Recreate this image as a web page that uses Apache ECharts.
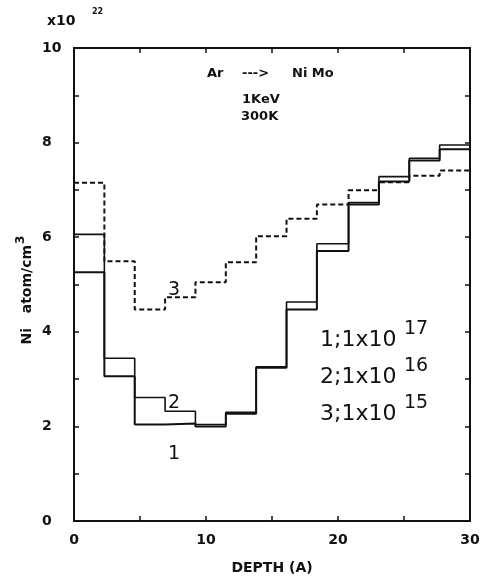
<!DOCTYPE html>
<html>
<head>
<meta charset="utf-8">
<script src="https://cdn.jsdelivr.net/npm/echarts@6/dist/echarts.min.js"></script>
<style>
  html, body { margin: 0; padding: 0; background: #fff; }
  #chart { width: 484px; height: 580px; }
</style>
</head>
<body>
<div id="chart"></div>
<script>
// Depth bin edges (Å) and Ni concentration per bin (x10^22 atom/cm^3)
const binEdges = [0, 2.3, 4.6, 6.9, 9.2, 11.5, 13.8, 16.1, 18.4, 20.8, 23.1, 25.4, 27.7, 30];
const fluence17 = [5.26, 3.06, 2.04, 2.06, 2.00, 2.27, 3.24, 4.47, 5.71, 6.69, 7.18, 7.62, 7.86];
const fluence16 = [6.06, 3.44, 2.61, 2.32, 2.04, 2.30, 3.26, 4.63, 5.86, 6.73, 7.28, 7.67, 7.95];
const fluence15 = [7.15, 5.49, 4.47, 4.73, 5.05, 5.47, 6.02, 6.39, 6.69, 6.99, 7.16, 7.30, 7.41];
const xTickLabels = ['0', '10', '20', '30'];
const yTickLabels = ['0', '2', '4', '6', '8', '10'];

// Histogram-style points: each bin value starts at its left edge, last value held to the end
function stepPoints(values) {
  const pts = values.map((v, i) => [binEdges[i], v]);
  pts.push([binEdges[binEdges.length - 1], values[values.length - 1]]);
  return pts;
}

const FONT = 'DejaVu Sans';
const INK = '#111';
const tickFont = { color: INK, fontFamily: FONT, fontWeight: 'bold', fontSize: 14 };

const chart = echarts.init(document.getElementById('chart'), null, { renderer: 'canvas' });

const axisLineStyle = { show: true, onZero: false, lineStyle: { color: INK, width: 2 } };
const tickStyle = { show: true, inside: true, length: 5, lineStyle: { color: INK, width: 1.5 } };

chart.setOption({
  backgroundColor: '#fff',
  animation: false,
  grid: { left: 74, right: 14, top: 48, bottom: 55 },
  xAxis: [
    {
      type: 'value', min: 0, max: 30, interval: 5, position: 'bottom',
      axisLine: axisLineStyle, axisTick: tickStyle, splitLine: { show: false },
      axisLabel: Object.assign({
        margin: 12,
        formatter: v => (xTickLabels.includes(String(v)) ? String(v) : '')
      }, tickFont),
      name: 'DEPTH (A)', nameLocation: 'middle', nameGap: 40,
      nameTextStyle: { color: INK, fontFamily: FONT, fontWeight: 'bold', fontSize: 14 }
    },
    {
      type: 'value', min: 0, max: 30, interval: 5, position: 'top',
      axisLine: axisLineStyle, axisTick: tickStyle, splitLine: { show: false },
      axisLabel: { show: false }
    }
  ],
  yAxis: [
    {
      type: 'value', min: 0, max: 10, interval: 1, position: 'left',
      axisLine: axisLineStyle, axisTick: tickStyle, splitLine: { show: false },
      axisLabel: Object.assign({
        margin: 32, align: 'left',
        formatter: v => (yTickLabels.includes(String(v)) ? String(v) : '')
      }, tickFont)
    },
    {
      type: 'value', min: 0, max: 10, interval: 1, position: 'right',
      axisLine: axisLineStyle, axisTick: tickStyle, splitLine: { show: false },
      axisLabel: { show: false }
    }
  ],
  series: [
    {
      name: '3', type: 'line', step: 'end', showSymbol: false,
      data: stepPoints(fluence15),
      lineStyle: { color: INK, width: 2, type: [5, 3] }
    },
    {
      name: '1', type: 'line', step: 'end', showSymbol: false,
      data: stepPoints(fluence17),
      lineStyle: { color: INK, width: 2 }
    },
    {
      name: '2', type: 'line', step: 'end', showSymbol: false,
      data: stepPoints(fluence16),
      lineStyle: { color: INK, width: 1.6 }
    }
  ],
  graphic: [
    // axis multiplier
    { type: 'text', x: 47, y: 14, style: { text: 'x10', fill: INK, font: 'bold 14px "DejaVu Sans"' } },
    { type: 'text', x: 92, y: 8, style: { text: '22', fill: INK, font: 'bold 8px "DejaVu Sans"' } },
    // y axis title, reading bottom to top
    {
      type: 'text', x: 27, y: 290, rotation: Math.PI / 2,
      style: {
        text: 'Ni   atom/cm{sup|3}', fill: INK, align: 'center', verticalAlign: 'middle',
        font: 'bold 14px "DejaVu Sans"',
        rich: { sup: { fontSize: 12, fontWeight: 'bold', fontFamily: FONT, verticalAlign: 'bottom', padding: [0, 0, 12, 1] } }
      }
    },
    // run conditions
    { type: 'text', x: 207, y: 67, style: { text: 'Ar', fill: INK, font: 'bold 13px "DejaVu Sans"' } },
    { type: 'text', x: 242, y: 67, style: { text: '--->', fill: INK, font: 'bold 13px "DejaVu Sans"' } },
    { type: 'text', x: 292, y: 67, style: { text: 'Ni Mo', fill: INK, font: 'bold 13px "DejaVu Sans"' } },
    { type: 'text', x: 242, y: 93, style: { text: '1KeV', fill: INK, font: 'bold 13px "DejaVu Sans"' } },
    { type: 'text', x: 241, y: 110, style: { text: '300K', fill: INK, font: 'bold 13px "DejaVu Sans"' } },
    // curve numbers
    { type: 'text', x: 168, y: 281, style: { text: '3', fill: INK, font: '19px "DejaVu Sans"' } },
    { type: 'text', x: 168, y: 394, style: { text: '2', fill: INK, font: '19px "DejaVu Sans"' } },
    { type: 'text', x: 168, y: 445, style: { text: '1', fill: INK, font: '19px "DejaVu Sans"' } },
    // fluence key
    {
      type: 'group', x: 320, y: 329,
      children: [
        { type: 'text', x: 0, y: 0, style: { text: '1;1x10', fill: INK, font: '22px "DejaVu Sans"' } },
        { type: 'text', x: 84, y: -9, style: { text: '17', fill: INK, font: '19px "DejaVu Sans"' } },
        { type: 'text', x: 0, y: 37, style: { text: '2;1x10', fill: INK, font: '22px "DejaVu Sans"' } },
        { type: 'text', x: 84, y: 28, style: { text: '16', fill: INK, font: '19px "DejaVu Sans"' } },
        { type: 'text', x: 0, y: 74, style: { text: '3;1x10', fill: INK, font: '22px "DejaVu Sans"' } },
        { type: 'text', x: 84, y: 65, style: { text: '15', fill: INK, font: '19px "DejaVu Sans"' } }
      ]
    }
  ]
});
</script>
</body>
</html>
